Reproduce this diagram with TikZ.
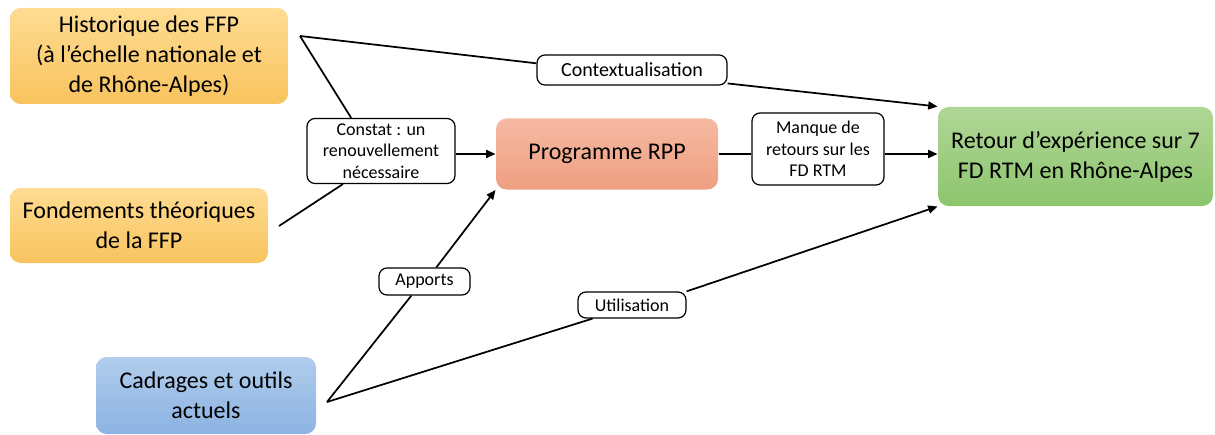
\documentclass[tikz,border=0pt]{standalone}
\usepackage{fontspec}
\setmainfont{Carlito}
\usepackage{xcolor}
\usetikzlibrary{arrows.meta}
\definecolor{orangeTop}{HTML}{FEDC92}
\definecolor{orangeBot}{HTML}{F8C35E}
\definecolor{saumonTop}{HTML}{F6B9A3}
\definecolor{saumonBot}{HTML}{EF9F80}
\definecolor{vertTop}{HTML}{B0D696}
\definecolor{vertBot}{HTML}{8DC56E}
\definecolor{bleuTop}{HTML}{B0CDEC}
\definecolor{bleuBot}{HTML}{8CB3E2}
\tikzset{every picture/.style={line width=0.75pt}}
\tikzset{
  mainbox/.style={rounded corners=8pt, align=center, inner sep=0pt,
    font=\fontsize{18}{22.5}\selectfont},
  smallbox/.style={draw, fill=white, rounded corners=6pt, align=center, inner sep=0pt,
    line width=0.9pt, font=\fontsize{13.5}{16}\selectfont},
  conn/.style={line width=1.3pt},
  arr/.style={conn, -{Triangle[length=7pt,width=6pt]}}
}

\begin{document}
\begin{tikzpicture}[x=0.75pt,y=0.75pt,yscale=-1,xscale=1]
    \useasboundingbox (0,0) rectangle (1215,435);
    % boites principales
    \node (hist) [mainbox, top color=orangeTop, bottom color=orangeBot, minimum width=208.5pt, minimum height=72pt] at (149,56) {Historique des FFP\\(à l’échelle nationale et\\de Rhône-Alpes)};
    \node (fond) [mainbox, top color=orangeTop, bottom color=orangeBot, minimum width=193.5pt, minimum height=56.25pt] at (139,225.5) {Fondements théoriques\\de la FFP};
    \node (cadr) [mainbox, top color=bleuTop, bottom color=bleuBot, minimum width=165pt, minimum height=57.75pt] at (206,395.5) {Cadrages et outils\\actuels};
    \node (prog) [mainbox, top color=saumonTop, bottom color=saumonBot, minimum width=166.5pt, minimum height=53.25pt] at (607,154) {Programme RPP};
    \node (retour) [mainbox, top color=vertTop, bottom color=vertBot, minimum width=206.25pt, minimum height=74.25pt] at (1075.5,156.5) {Retour d’expérience sur 7\\FD RTM en Rhône-Alpes};
    % etiquettes
    \node (constat) [smallbox, minimum width=111pt, minimum height=48.75pt] at (381,151) {Constat : un\\renouvellement\\nécessaire};
    \node (manque) [smallbox, minimum width=99pt, minimum height=54pt] at (818,149) {Manque de\\retours sur les\\FD RTM};
    \node (ctx) [smallbox, font=\fontsize{15}{18}\selectfont, minimum width=142.5pt, minimum height=22.5pt] at (632,70) {Contextualisation};
    \node (apports) [smallbox, minimum width=68.25pt, minimum height=20.25pt] at (424.5,281.5) {Apports};
    \node (util) [smallbox, minimum width=81pt, minimum height=19.5pt] at (632,305) {Utilisation};
    \coordinate (jH) at (300,36);
    \coordinate (jF) at (279,226);
    \coordinate (jC) at (327,402);
    % liaisons
    \draw [conn] (jH) -- (constat.132);
    \draw [conn] (jF) -- (constat.221);
    \draw [conn] (jH) -- (ctx.176);
    \draw [arr] (ctx.-8) -- (retour.north west);
    \draw [arr] (constat.east |- prog.west) -- (prog.west);
    \draw [conn] (prog.east) -- (prog.east -| manque.west);
    \draw [arr] (manque.east |- prog.east) -- (prog.east -| retour.west);
    \draw [conn] (jC) -- (apports.227);
    \draw [arr] (apports.50) -- (prog.south west);
    \draw [conn] (jC) -- (util.199);
    \draw [arr] (util.14) -- (retour.south west);
\end{tikzpicture}
\end{document}
